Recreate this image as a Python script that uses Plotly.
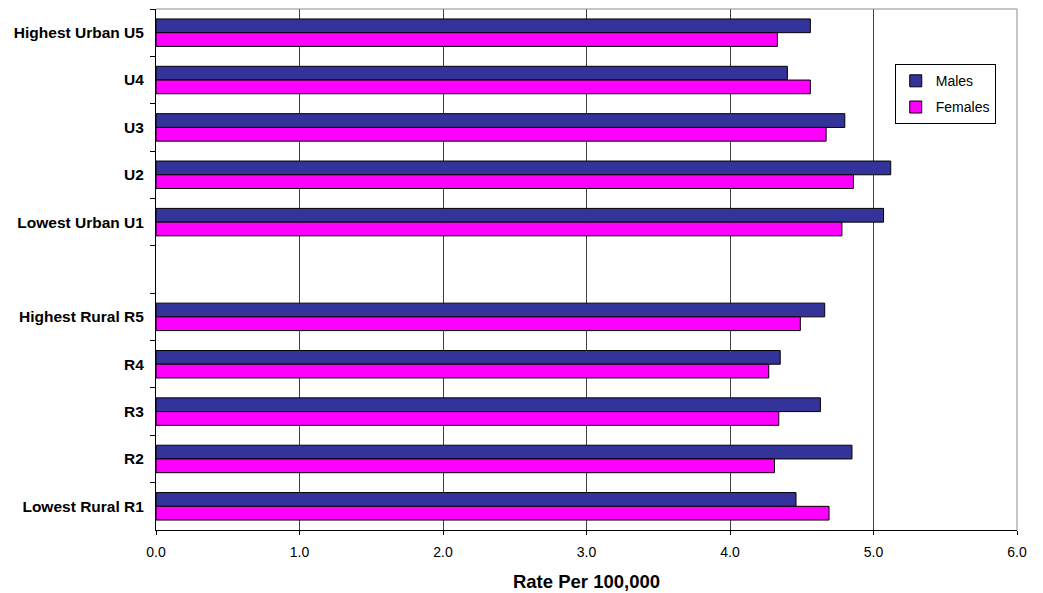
import plotly.graph_objects as go

# Geographic quintile groups, top to bottom (" " is the spacer row between urban and rural)
categories = [
    "Highest Urban U5", "U4", "U3", "U2", "Lowest Urban U1",
    " ",
    "Highest Rural R5", "R4", "R3", "R2", "Lowest Rural R1",
]
males = [4.56, 4.40, 4.80, 5.12, 5.07, None, 4.66, 4.35, 4.63, 4.85, 4.46]
females = [4.33, 4.56, 4.67, 4.86, 4.78, None, 4.49, 4.27, 4.34, 4.31, 4.69]

x_ticks = [0, 1, 2, 3, 4, 5, 6]

FONT = "Liberation Sans, Arial, sans-serif"

fig = go.Figure()
fig.add_trace(go.Bar(
    name="Males", y=categories, x=males, orientation="h", legendgroup="m",
    marker=dict(color="#333399", line=dict(color="#000000", width=1)),
))
fig.add_trace(go.Bar(
    name="Females", y=categories, x=females, orientation="h", legendgroup="f",
    marker=dict(color="#FF00FF", line=dict(color="#000000", width=1)),
))

fig.update_layout(
    width=1043, height=593,
    margin=dict(l=156, r=26, t=9, b=63),
    paper_bgcolor="white", plot_bgcolor="white",
    barmode="group", bargap=0.42, bargroupgap=0,
    font=dict(family=FONT, size=14, color="#000000"),
    showlegend=True,
    legend=dict(
        x=0.858, y=0.894, xanchor="left", yanchor="top",
        bgcolor="white", bordercolor="#000000", borderwidth=1,
        font=dict(family=FONT, size=14, color="#000000"),
        itemwidth=30, tracegroupgap=5,
    ),
    xaxis=dict(
        range=[0, 6], tickvals=x_ticks, tickformat=".1f",
        showgrid=True, gridcolor="#404040", gridwidth=1,
        showline=True, linecolor="#000000", linewidth=1,
        ticks="outside", ticklen=4, tickcolor="#000000",
        zeroline=False, ticklabelstandoff=5, automargin=False,
        tickfont=dict(family=FONT, size=14),
        title=dict(text="<b>Rate Per 100,000</b>",
                   font=dict(family=FONT, size=18.5), standoff=16),
    ),
    yaxis=dict(
        type="category", categoryorder="array", categoryarray=categories,
        autorange="reversed", automargin=False,
        showgrid=False, showline=True, linecolor="#000000", linewidth=1,
        ticks="outside", ticklen=5, tickcolor="#000000",
        tickson="boundaries", ticklabelstandoff=8,
        tickfont=dict(family=FONT, size=15.5),
        tickprefix="<b>", ticksuffix="</b>",
    ),
)

# Light frame along the top and right of the plot area
fig.add_shape(type="line", xref="paper", yref="paper", x0=0, x1=1, y0=1, y1=1,
              line=dict(color="#8c8c8c", width=1), layer="above")
fig.add_shape(type="line", xref="paper", yref="paper", x0=1, x1=1, y0=0, y1=1,
              line=dict(color="#8c8c8c", width=1), layer="above")

fig.write_html("out.html")
